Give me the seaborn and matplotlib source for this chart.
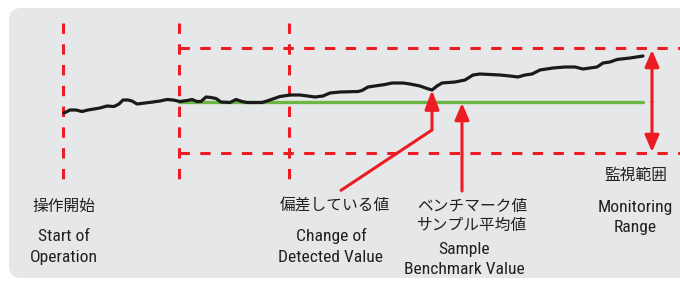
import matplotlib
matplotlib.use("Agg")
import matplotlib.pyplot as plt
from matplotlib.patches import FancyBboxPatch
import seaborn as sns

# signal (time, deviation from benchmark)
t = [64, 70, 76, 82, 88, 94, 100, 107, 114, 119, 123, 128, 132, 137, 145, 153,
     160, 167, 173, 180, 187, 192, 197, 201, 206, 211, 216, 221, 230, 236, 242,
     247, 262, 267, 280, 290, 300, 315, 323, 330, 340, 358, 362, 368, 385, 392,
     403, 410, 420, 427, 432, 437, 442, 455, 465, 473, 480, 490, 500, 510, 518,
     525, 532, 540, 553, 565, 575, 583, 590, 597, 603, 610, 617, 630, 643]
signal = [-11, -8, -8, -9.5, -8, -7, -6, -4, -4.5, -2, 2, 2, 1, -2, -1, 0,
          1, 2.5, 2, 0.5, 1.5, 2.5, 0.5, 0.5, 5, 4.5, 3.5, 0, -0.5, 2.5, 0.5,
          -0.5, -0.5, 1, 5.5, 7, 7, 5, 6, 9, 10, 10.5, 11.5, 15, 17.5, 19,
          19, 18, 16, 13.5, 12, 16, 19, 20, 22, 27, 28, 27.5, 27, 26, 25,
          27, 28, 32, 34, 35, 35, 33, 34, 35, 39, 40, 42.5, 44, 46]

benchmark = 0
upper_limit = 54
lower_limit = -51
t_start = 63          # start of operation
t_monitor = 179       # benchmark sampled from here
t_third = 289
t_change = 432        # detected deviation
t_sample = 462
t_end = 643
t_range = 652

RED = "#ed1c24"
GREEN = "#6cb645"
TXT = "#231f20"
EN = ["Roboto Condensed", "Liberation Sans Narrow", "Roboto", "DejaVu Sans"]
JP = ["Noto Sans CJK JP", "DejaVu Sans"]

sns.set_theme(style="white")
plt.rcParams["font.family"] = EN

fig = plt.figure(figsize=(6.8, 2.82), dpi=100)
ax = fig.add_axes([0, 0, 1, 1])
ax.set_xlim(0, 680)
ax.set_ylim(-180, 102)
ax.axis("off")

ax.add_patch(FancyBboxPatch((9, -176), 700, 270,
                            boxstyle="round,pad=0,rounding_size=12",
                            fc="#e6e7e8", ec="none", zorder=0))

dash = dict(color=RED, lw=2.2, dashes=(3.4, 3.4), zorder=2)
for xv in [t_start, t_monitor, t_third]:
    ax.plot([xv, xv], [79, -78], **dash)
for yv in [upper_limit, lower_limit]:
    ax.plot([t_monitor, 680], [yv, yv], **dash)

ax.plot([t_monitor, t_end], [benchmark, benchmark], color=GREEN, lw=2.4, zorder=3)
sns.lineplot(x=t, y=signal, ax=ax, color="#1a1a1a", lw=2.3, zorder=4)

def arrow(x0, y0, x1, y1, hl=10):
    ax.annotate("", xy=(x1, y1), xytext=(x0, y0),
                arrowprops=dict(arrowstyle=f"-|>,head_length={hl},head_width=4.3",
                                color=RED, lw=2.2, shrinkA=0, shrinkB=0,
                                mutation_scale=1), zorder=5)

ax.plot([340, t_change], [-89, -28], color=RED, lw=2.2, zorder=5,
        solid_capstyle="butt")
arrow(t_change, -28, t_change, 12, hl=11.5)
arrow(t_sample, -89, t_sample, -1)
arrow(t_range, 0, t_range, upper_limit - 2)
arrow(t_range, 0, t_range, lower_limit + 1)

def jp(x, y, s):
    ax.text(x, y, s, ha="center", va="center", fontsize=11.3, color=TXT,
            family=JP, zorder=6)

def en(x, y, s):
    ax.text(x, y, s, ha="center", va="baseline", fontsize=12.6, color=TXT,
            family=EN, zorder=6)

jp(63.5, -104.5, "操作開始")
en(64, -139, "Start of")
en(64, -160, "Operation")

jp(335, -104.5, "偏差している値")
en(331, -139, "Change of")
en(331, -160, "Detected Value")

jp(472, -104, "ベンチマーク値")
jp(472, -123.5, "サンプル平均値")
en(464.5, -152, "Sample")
en(464.5, -172, "Benchmark Value")

jp(636, -73, "監視範囲")
en(635.5, -110, "Monitoring")
en(635.5, -130, "Range")

fig.savefig("out.png", dpi=100)
